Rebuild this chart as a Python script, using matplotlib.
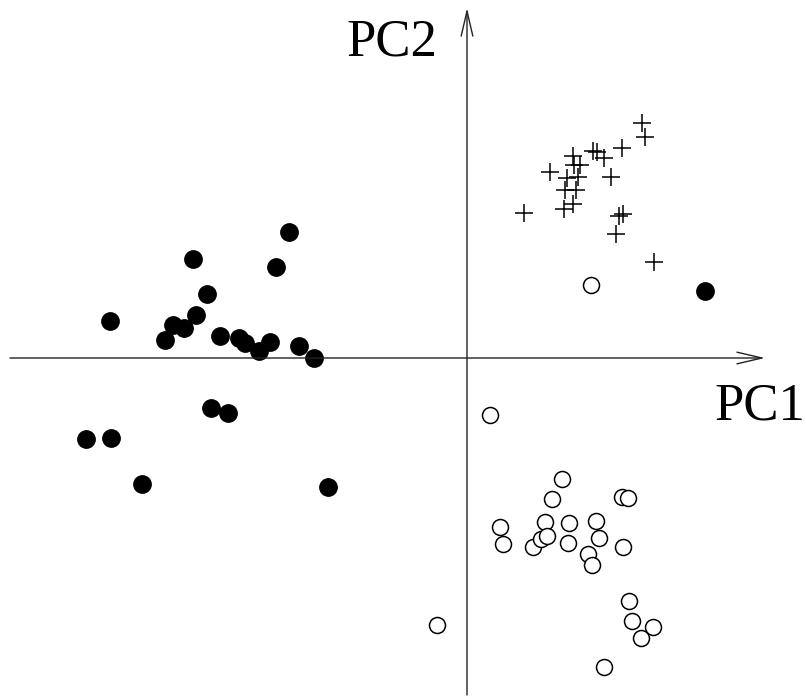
import numpy as np
import matplotlib.pyplot as plt

# class 1 : filled circles
pc1_filled = [-3.57, -2.74, -1.78, -1.91, -2.60, -2.71, -2.94, -2.83, -3.02, -2.47,
              -2.28, -2.22, -2.08, -1.97, -1.68, -1.53, -3.81, -3.56, -2.56, -2.39,
              -3.25, -1.39, 2.38]
pc2_filled = [0.37, 0.99, 1.26, 0.91, 0.64, 0.43, 0.33, 0.30, 0.18, 0.22,
              0.20, 0.15, 0.07, 0.16, 0.12, 0.00, -0.81, -0.80, -0.50, -0.55,
              -1.26, -1.29, 0.67]

# class 2 : plus signs
pc1_plus = [1.75, 1.78, 1.55, 1.26, 1.30, 1.37, 1.06, 1.13, 1.07, 0.83, 1.44,
            1.00, 1.11, 0.98, 1.09, 1.06, 0.97, 0.57, 1.52, 1.56, 1.49, 1.87]
pc2_plus = [2.35, 2.21, 2.10, 2.07, 2.06, 2.00, 2.02, 1.93, 1.93, 1.86, 1.81,
            1.80, 1.81, 1.68, 1.68, 1.54, 1.49, 1.45, 1.42, 1.44, 1.24, 0.96]

# class 3 : open circles
pc1_open = [0.95, 0.85, 1.55, 1.61, 0.33, 0.78, 1.02, 1.29, 0.36, 0.66, 0.74,
            0.80, 1.01, 1.32, 1.56, 1.21, 1.25, 1.62, 1.65, 1.86, 1.74, 1.37,
            0.23, -0.30, 1.24]
pc2_open = [-1.21, -1.41, -1.39, -1.40, -1.69, -1.64, -1.65, -1.63, -1.86, -1.89, -1.81,
            -1.78, -1.85, -1.80, -1.89, -1.96, -2.07, -2.43, -2.63, -2.69, -2.80, -3.09,
            -0.57, -2.67, 0.73]

fig = plt.figure(figsize=(8.06, 7.0), dpi=100)
ax = fig.add_axes([0, 0, 1, 1])
ax.set_xlim(-4.67, 3.39)
ax.set_ylim(-3.42, 3.58)
ax.axis('off')

# axes with open arrow heads
arrow = dict(arrowstyle='->,head_length=1.8,head_width=0.42', color='#222222', lw=1.0,
             shrinkA=0, shrinkB=0)
ax.annotate('', xy=(2.98, 0), xytext=(-4.57, 0), arrowprops=arrow)
ax.annotate('', xy=(0, 3.50), xytext=(0, -3.37), arrowprops=arrow)

ax.plot(pc1_filled, pc2_filled, 'o', color='black', markersize=12.5, linestyle='none')
ax.plot(pc1_plus, pc2_plus, '+', color='black', markersize=13, markeredgewidth=1.1,
        linestyle='none')
ax.plot(pc1_open, pc2_open, 'o', markerfacecolor='white', markeredgecolor='black',
        markersize=11.5, markeredgewidth=1.1, linestyle='none')

ax.text(-0.30, 3.03, 'PC2', fontsize=38, family='Liberation Serif', ha='right', va='baseline')
ax.text(3.38, -0.61, 'PC1', fontsize=38, family='Liberation Serif', ha='right', va='baseline')

fig.savefig('out.png', dpi=100)
